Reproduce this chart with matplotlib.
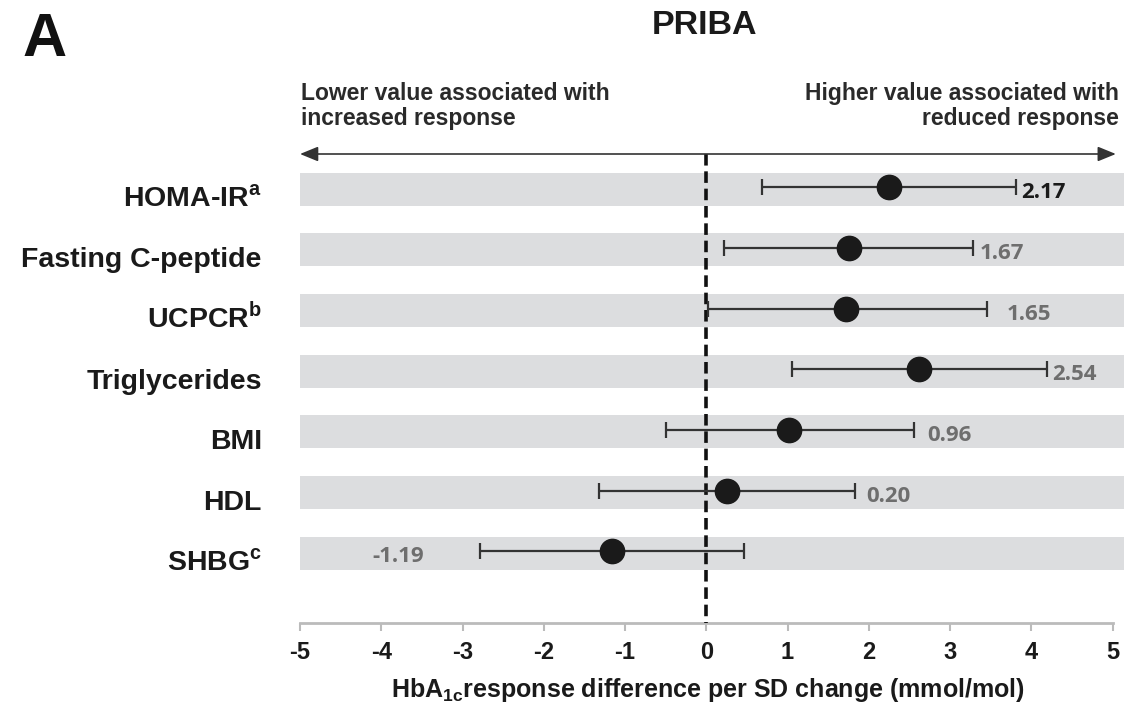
import matplotlib
matplotlib.use("Agg")
import matplotlib.pyplot as plt

# Forest plot data, top row first
labels = [
    r"HOMA-IR$^{\mathbf{a}}$",
    "Fasting C-peptide",
    r"UCPCR$^{\mathbf{b}}$",
    "Triglycerides",
    "BMI",
    "HDL",
    r"SHBG$^{\mathbf{c}}$",
]
estimate = [2.25, 1.75, 1.72, 2.62, 1.02, 0.25, -1.16]
ci_low = [0.68, 0.22, 0.02, 1.06, -0.50, -1.32, -2.78]
ci_high = [3.81, 3.28, 3.46, 4.19, 2.55, 1.83, 0.47]
value_text = ["2.17", "1.67", "1.65", "2.54", "0.96", "0.20", "-1.19"]
xticks = [-5, -4, -3, -2, -1, 0, 1, 2, 3, 4, 5]

# where the printed value sits: gap after the upper CI (data units); SHBG goes left
value_gap = [0.06, 0.08, 0.24, 0.07, 0.17, 0.14, None]

plt.rcParams["mathtext.fontset"] = "custom"
plt.rcParams["mathtext.bf"] = "Liberation Sans:bold"
plt.rcParams["mathtext.rm"] = "Liberation Sans"

W, H = 1125, 705
fig = plt.figure(figsize=(W / 100, H / 100), dpi=100)
ax = fig.add_axes([300 / W, 82 / H, 812.6 / W, (623 - 140) / H])

row_px = 60.7
y_top = (140 - 189) / row_px
y_bot = (623 - 189) / row_px
ax.set_xlim(-5, 5)
ax.set_ylim(y_bot, y_top)

band_h = 33 / row_px
for i in range(len(labels)):
    ax.add_patch(plt.Rectangle((-5, i - band_h / 2), 10.14, band_h,
                               facecolor="#dcdddf", edgecolor="none",
                               clip_on=False, zorder=1))

rows = list(range(len(labels)))
yy = [r - 0.03 for r in rows]
xerr = [[e - l for e, l in zip(estimate, ci_low)],
        [h - e for e, h in zip(estimate, ci_high)]]
ax.errorbar(estimate, yy, xerr=xerr, fmt="o", color="#1a1a1a",
            ecolor="#333333", elinewidth=1.6, capsize=6, capthick=1.6,
            markersize=17.5, zorder=4)

# dashed zero line
y_arrow = (154 - 189) / row_px
ax.plot([0, 0], [y_arrow, y_bot], color="#111111", lw=2.6,
        ls=(0, (3.2, 1.6)), zorder=3, clip_on=False)

# direction arrow
ax.annotate("", xy=(5.04, y_arrow), xytext=(-5.0, y_arrow),
            arrowprops=dict(arrowstyle="<|-|>,head_length=1.1,head_width=0.45",
                            color="#333333", lw=1.2, shrinkA=0, shrinkB=0),
            annotation_clip=False)

# row labels and printed values
for i, lab in enumerate(labels):
    ax.text(-5.47, i + 0.29, lab, ha="right", va="baseline", fontsize=20.5,
            fontweight="bold", family="Liberation Sans", color="#1a1a1a")
for i, txt in enumerate(value_text):
    col = "#1a1a1a" if i == 0 else "#6e6e6e"
    if value_gap[i] is None:
        ax.text(-4.11, i + 0.06, txt, ha="left", va="center", fontsize=16,
                fontweight="bold", family="Open Sans", color=col)
    else:
        ax.text(ci_high[i] + value_gap[i], i + 0.06, txt, ha="left",
                va="center", fontsize=16, fontweight="bold",
                family="Open Sans", color=col)

for s in ["top", "left", "right"]:
    ax.spines[s].set_visible(False)
ax.spines["bottom"].set_color("#bbbbbb")
ax.spines["bottom"].set_linewidth(2)
ax.set_yticks([])
ax.set_xticks(xticks)
ax.set_xticklabels([str(t) for t in xticks])
ax.tick_params(axis="x", direction="out", length=6, width=1.5,
               color="#bbbbbb", pad=7, labelsize=17)
for t in ax.get_xticklabels():
    t.set_fontweight("bold")
    t.set_family("Liberation Sans")
    t.set_color("#1a1a1a")

fig.text(708 / W, 1 - 690 / H,
         r"HbA$_{\mathbf{1c}}$response difference per SD change (mmol/mol)",
         ha="center", va="center", fontsize=18, fontweight="bold",
         family="Liberation Sans", color="#1a1a1a")

fig.text(705 / W, 1 - 26 / H, "PRIBA", ha="center", va="center",
         fontsize=24.5, fontweight="bold", family="Liberation Sans", color="#1a1a1a")
fig.text(22 / W, 1 - 40 / H, "A", ha="left", va="center", fontsize=44,
         fontweight="bold", family="Liberation Sans", color="#111111")
fig.text(301 / W, 1 - 82 / H, "Lower value associated with\nincreased response",
         ha="left", va="top", fontsize=16.5, fontweight="bold", linespacing=1.1,
         family="Liberation Sans", color="#2a2a2a")
fig.text(1119 / W, 1 - 82 / H, "Higher value associated with\nreduced response",
         ha="right", va="top", multialignment="right", fontsize=16.5,
         fontweight="bold", linespacing=1.1, family="Liberation Sans",
         color="#2a2a2a")

fig.savefig("out.png", dpi=100)
